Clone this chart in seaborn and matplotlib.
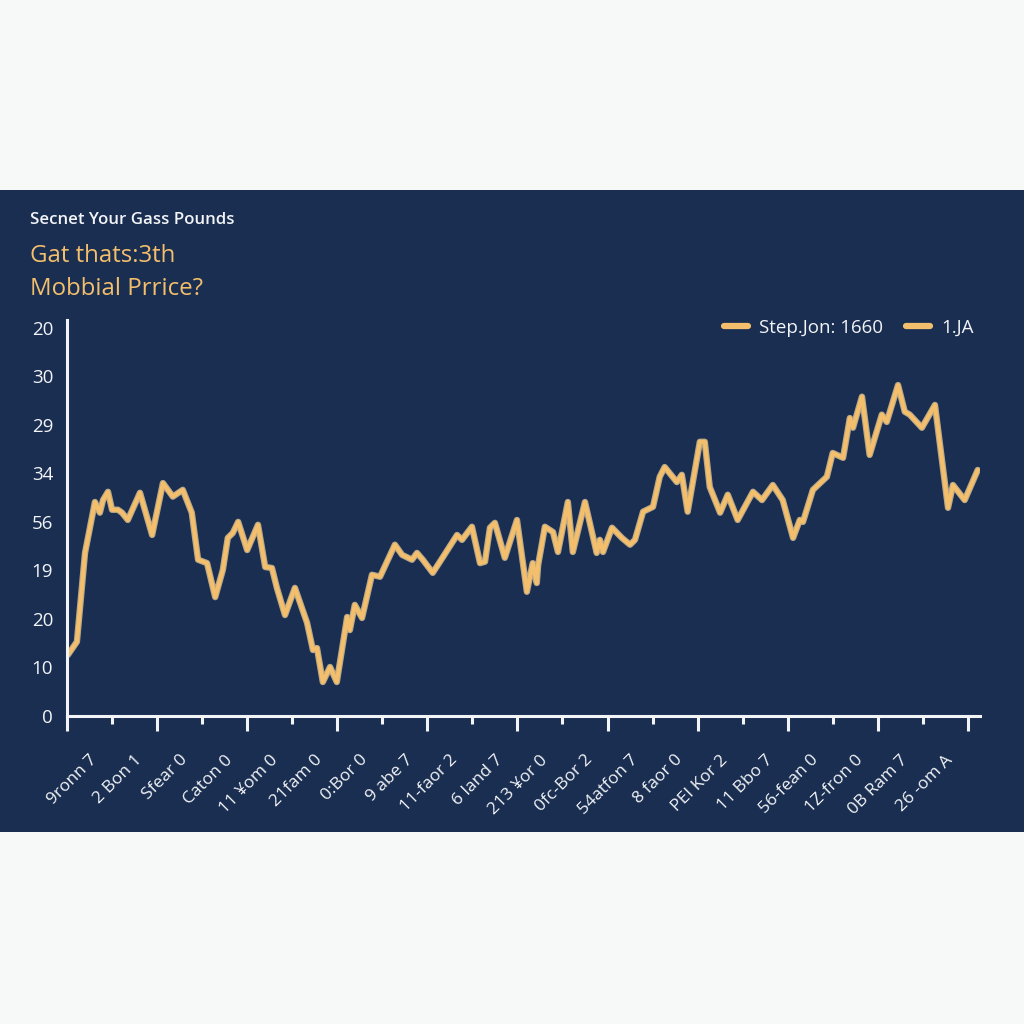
import numpy as np
import pandas as pd
import seaborn as sns
import matplotlib
matplotlib.use("Agg")
import matplotlib.pyplot as plt
import matplotlib.patheffects as pe
from matplotlib.patches import Rectangle
from matplotlib.lines import Line2D
import matplotlib.transforms as mtransforms

# ---------------- data ----------------
time_idx = [0.02, 0.22, 0.40, 0.62, 0.73, 0.80, 0.91, 1.00, 1.13, 1.22,
            1.35, 1.62, 1.89, 2.13, 2.35, 2.57, 2.77, 2.91, 3.11, 3.29,
            3.46, 3.57, 3.68, 3.80, 4.00, 4.24, 4.40, 4.55, 4.66, 4.84,
            5.06, 5.33, 5.46, 5.55, 5.68, 5.84, 5.99, 6.22, 6.28, 6.39,
            6.55, 6.77, 6.95, 7.28, 7.44, 7.66, 7.77, 7.90, 8.12, 8.35,
            8.66, 8.77, 8.99, 9.17, 9.28, 9.39, 9.50, 9.72, 9.99, 10.21,
            10.34, 10.43, 10.46, 10.61, 10.79, 10.90, 11.12, 11.23, 11.50, 11.76,
            11.83, 11.90, 12.10, 12.32, 12.50, 12.61, 12.79, 13.01, 13.16, 13.27,
            13.54, 13.65, 13.78, 14.05, 14.16, 14.27, 14.50, 14.67, 14.89, 15.23,
            15.43, 15.67, 15.89, 16.12, 16.27, 16.34, 16.56, 16.87, 17.00, 17.23,
            17.38, 17.45, 17.65, 17.82, 18.09, 18.20, 18.45, 18.60, 18.71, 18.98,
            19.27, 19.56, 19.67, 19.93, 20.22]
price = [1.26, 1.53, 3.36, 4.41, 4.19, 4.45, 4.62, 4.25, 4.25, 4.19,
         4.04, 4.60, 3.73, 4.80, 4.52, 4.66, 4.19, 3.22, 3.15, 2.45,
         3.01, 3.67, 3.77, 4.00, 3.42, 3.94, 3.07, 3.05, 2.64, 2.08,
         2.64, 1.92, 1.36, 1.40, 0.70, 1.01, 0.70, 2.04, 1.77, 2.29,
         2.02, 2.91, 2.87, 3.53, 3.32, 3.22, 3.36, 3.22, 2.95, 3.28,
         3.73, 3.63, 3.90, 3.15, 3.18, 3.88, 3.98, 3.26, 4.04, 2.56,
         3.15, 2.74, 3.11, 3.90, 3.79, 3.38, 4.41, 3.38, 4.41, 3.36,
         3.63, 3.38, 3.88, 3.67, 3.53, 3.63, 4.21, 4.31, 4.93, 5.13,
         4.82, 4.97, 4.21, 5.65, 5.65, 4.72, 4.19, 4.56, 4.04, 4.62,
         4.45, 4.76, 4.45, 3.67, 4.04, 4.00, 4.66, 4.93, 5.42, 5.32,
         6.14, 5.94, 6.58, 5.38, 6.21, 6.06, 6.82, 6.27, 6.21, 5.94,
         6.41, 4.29, 4.76, 4.45, 5.07]

y_tick_labels = ["0", "10", "20", "19", "56", "34", "29", "30", "20"]
x_tick_labels = ["9ronn 7", "2 Bon 1", "Sfear 0", "Caton 0", "11 ¥om 0",
                 "21fam 0", "0:Bor 0", "9 abe 7", "11-faor 2", "6 land 7",
                 "213 ¥or 0", "0fc-Bor 2", "54atfon 7", "8 faor 0", "PEI Kor 2",
                 "11 Bbo 7", "56-fean 0", "1Z-fron 0", "0B Ram 7", "26 -om A"]
legend_labels = ["Step.Jon: 1660", "1.JA"]
subtitle = "Secnet Your Gass Pounds"
title_lines = ["Gat thats:3th", "Mobbial Prrice?"]

# ---------------- style ----------------
NAVY = "#1a2e51"
GOLD = "#f3bf6c"
GLOW = "#fddca0"
WHITE = "#f2f4f7"
BG = "#f7f8f8"

sns.set_theme(style="white")
plt.rcParams["font.family"] = ["Open Sans", "DejaVu Sans"]

fig = plt.figure(figsize=(10.24, 10.24), dpi=100, facecolor=BG)
fig.add_artist(Rectangle((0, 1 - 832 / 1024), 1, (832 - 190) / 1024,
                         transform=fig.transFigure, facecolor=NAVY,
                         edgecolor="none", zorder=-5))

ax = fig.add_axes([67 / 1024, 1 - 716 / 1024, (980 - 67) / 1024, (716 - 320) / 1024])
ax.set_facecolor("none")

df = pd.DataFrame({"t": time_idx, "p": price})
sns.lineplot(data=df, x="t", y="p", ax=ax, color=GOLD, linewidth=3.0,
             solid_joinstyle="round", solid_capstyle="round",
             path_effects=[pe.Stroke(linewidth=4.6, foreground=GLOW, alpha=0.7), pe.Normal()])

ax.set_xlim(0, 20.27)
ax.set_ylim(0, 8.16)
ax.set_xlabel("")
ax.set_ylabel("")

for s in ["top", "right"]:
    ax.spines[s].set_visible(False)
for s in ["left", "bottom"]:
    ax.spines[s].set_visible(True)
    ax.spines[s].set_color(WHITE)
    ax.spines[s].set_linewidth(2.2)

# y ticks
ax.set_yticks(range(len(y_tick_labels)))
ax.set_yticklabels(y_tick_labels, color=WHITE, fontsize=13.5)
ax.tick_params(axis="y", length=0, pad=10)

# x ticks: long at even, short at odd
ax.set_xticks(np.arange(0, 21, 2))
ax.set_xticks(np.arange(1, 21, 2), minor=True)
ax.tick_params(axis="x", which="major", length=11, width=2.2, color=WHITE,
               direction="out", labelbottom=False, bottom=True)
ax.tick_params(axis="x", which="minor", length=6, width=2.2, color=WHITE,
               direction="out", bottom=True)

trans = mtransforms.blended_transform_factory(ax.transData, ax.transAxes)
for k, lab in enumerate(x_tick_labels):
    ax.text(k + 0.62, -0.105, lab, transform=trans, rotation=45,
            ha="right", va="center", rotation_mode="anchor",
            color=WHITE, fontsize=12.5)

# legend
handles = [Line2D([], [], color=GOLD, linewidth=4.5, solid_capstyle="round"),
           Line2D([], [], color=GOLD, linewidth=4.5, solid_capstyle="round")]
leg = ax.legend(handles, legend_labels, loc="center right",
                bbox_to_anchor=(1.012, 0.98), ncol=2, frameon=False,
                handlelength=1.3, handletextpad=0.6, columnspacing=1.2,
                fontsize=13.5)
for t in leg.get_texts():
    t.set_color(WHITE)

# titles
fig.text(30 / 1024, 1 - 220 / 1024, subtitle, color=WHITE, fontsize=12.2,
         fontweight="semibold", ha="left", va="center")
fig.text(30 / 1024, 1 - 256 / 1024, title_lines[0], color=GOLD, fontsize=17.3,
         fontweight="medium", ha="left", va="center")
fig.text(30 / 1024, 1 - 289 / 1024, title_lines[1], color=GOLD, fontsize=17.3,
         fontweight="medium", ha="left", va="center")

fig.savefig("out.png", dpi=100, facecolor=BG)
